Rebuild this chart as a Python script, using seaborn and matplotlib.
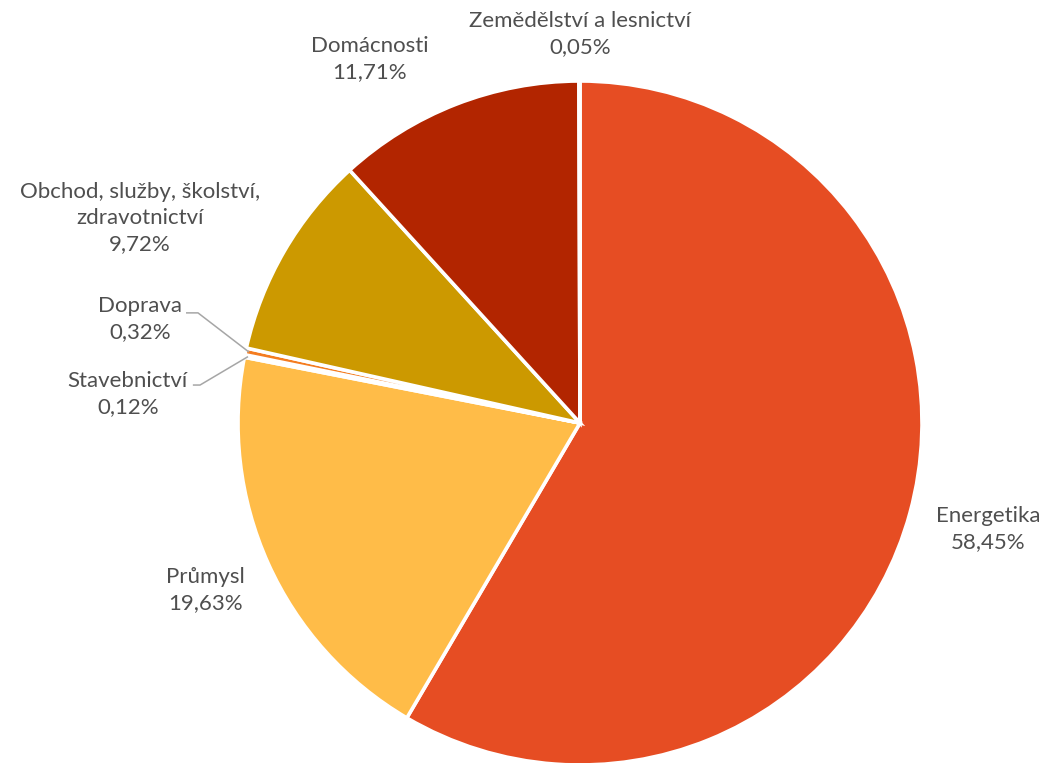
import matplotlib
matplotlib.use("Agg")
import matplotlib.pyplot as plt
import seaborn as sns
import numpy as np

# Emission shares by sector (%)
sectors = ["Energetika", "Průmysl", "Stavebnictví", "Doprava",
           "Obchod, služby, školství,\nzdravotnictví", "Domácnosti",
           "Zemědělství a lesnictví"]
shares = [58.45, 19.63, 0.12, 0.32, 9.72, 11.71, 0.05]
share_labels = ["58,45%", "19,63%", "0,12%", "0,32%", "9,72%", "11,71%", "0,05%"]
colors = ["#E64D23", "#FFBC48", "#F4B183", "#F47C20", "#CC9900", "#B22500", "#8E1E00"]

sns.set_theme(style="white")
plt.rcParams["font.family"] = ["Lato", "DejaVu Sans"]

fig = plt.figure(figsize=(10.45, 7.63), dpi=100)
W, H = 1045, 763
cx, cy, r = 580, 423, 342
ax = fig.add_axes([(cx - r) / W, (H - cy - r) / H, 2 * r / W, 2 * r / H])

wedges, _ = ax.pie(shares, colors=colors, startangle=90, counterclock=False,
                   radius=1.0, center=(0, 0), frame=False,
                   wedgeprops=dict(edgecolor="white", linewidth=2.6))
ax.set_xlim(-1, 1)
ax.set_ylim(-1, 1)
ax.axis("off")

text_color = "#4F4F4F"
fs = 16

# label block centres in axes data units
label_pos = {
    "Energetika": (1.193, -0.310),
    "Průmysl": (-1.096, -0.488),
    "Stavebnictví": (-1.322, 0.085),
    "Doprava": (-1.287, 0.304),
    "Obchod, služby, školství,\nzdravotnictví": (-1.287, 0.599),
    "Domácnosti": (-0.614, 1.064),
    "Zemědělství a lesnictví": (0.0, 1.137),
}

for name, val in zip(sectors, share_labels):
    x, y = label_pos[name]
    ax.text(x, y, f"{name}\n{val}", ha="center", va="center", fontsize=fs,
            color=text_color, linespacing=1.37, clip_on=False)

# leader lines for the two thin wedges
cum = np.cumsum([0] + shares[:-1])
def wedge_point(i, rad=0.99):
    mid = cum[i] + shares[i] / 2
    ang = np.deg2rad(90 - 360 * mid / 100)
    return rad * np.cos(ang), rad * np.sin(ang)

leaders = {3: (-1.152, -1.117, 0.322), 2: (-1.132, -1.111, 0.111)}
for i, (x0, x1, yl) in leaders.items():
    px, py = wedge_point(i)
    ax.plot([x0, x1, px], [yl, yl, py], color="#A6A6A6", lw=1.1,
            clip_on=False, solid_capstyle="butt")

fig.savefig("out.png", dpi=100, facecolor="white")
